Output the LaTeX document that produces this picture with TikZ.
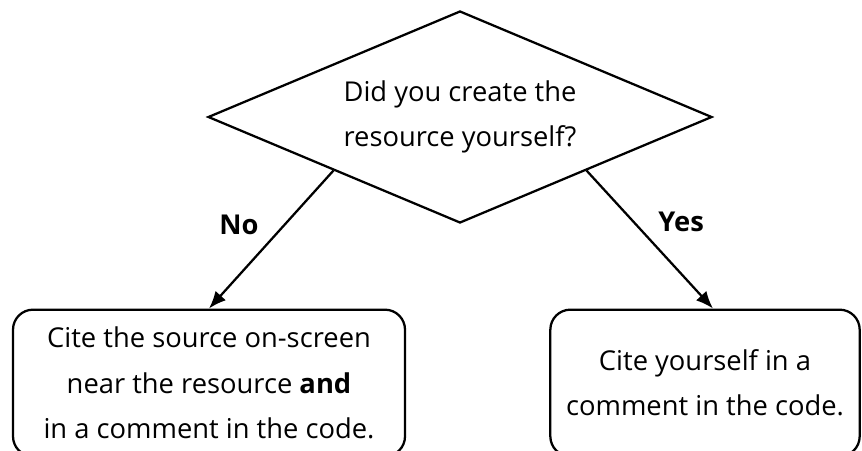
\documentclass[tikz,border=0pt]{standalone}
\usepackage{fontspec}
\setmainfont{Open Sans}
\usetikzlibrary{shapes.geometric,arrows.meta}

\newcommand{\flowfont}{\fontsize{20.5}{34}\selectfont}

\tikzset{
  decision/.style={diamond,draw,line width=1.7pt,inner sep=0pt,aspect=2.4,
                   minimum width=378pt,minimum height=159pt,align=center},
  answer/.style={rectangle,draw,line width=1.7pt,rounded corners=15pt,
                 minimum height=110pt,align=center},
  flow/.style={line width=1.7pt,-{Latex[length=13pt,width=10.5pt]}},
  lbl/.style={font=\flowfont\bfseries,inner sep=0pt}
}

\begin{document}
\begin{tikzpicture}[x=0.75pt,y=-0.75pt,font=\flowfont]

\clip (0,0) rectangle (862,450);

% Draw the question
\node [decision] at (460,117) (q) {Did you create the\\resource yourself?};

% Draw the two answers
\node [answer,minimum width=294pt] at (209,383) (no)
      {Cite the source on-screen\\near the resource \textbf{and}\\in a comment in the code.};
\node [answer,minimum width=232pt] at (705,383) (yes)
      {Cite yourself in a\\comment in the code.};

% Draw the branches
\draw [flow] (q.south west) -- node [lbl,pos=0.39,left=19pt] (nolbl) {No} (no.north);
\draw [flow] (q.south east) -- node [lbl,pos=0.37,right=18pt] (yeslbl) {Yes} ([xshift=6pt]yes.north);

\end{tikzpicture}
\end{document}
